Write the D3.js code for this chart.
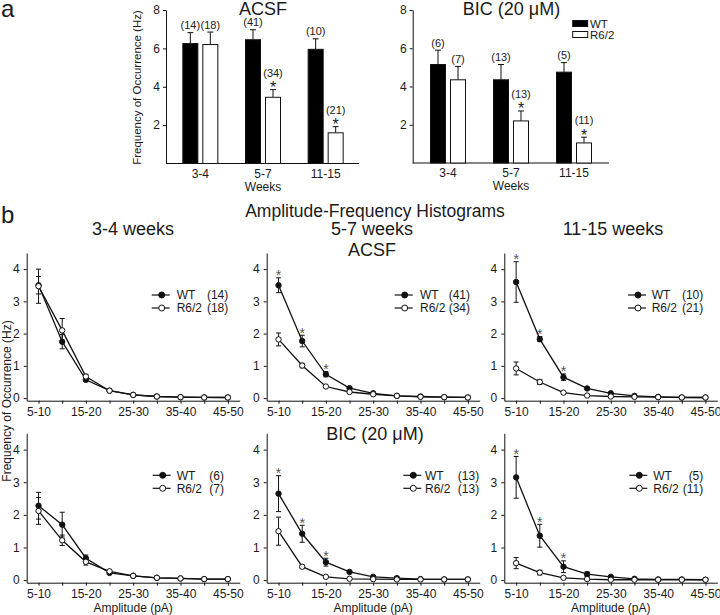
<!DOCTYPE html>
<html><head><meta charset="utf-8">
<script src="https://cdn.jsdelivr.net/npm/d3@7"></script>
<style>
body{margin:0;background:#fff;}
svg text{font-family:"Liberation Sans", Arial, sans-serif; fill:#1a1a1a;}
</style></head><body>
<svg id="chart" width="720" height="615"></svg>
<script>
// ---------- Data: panel a (bar charts) ----------
const weeks = ["3-4", "5-7", "11-15"];
const acsfWT = [6.25, 6.45, 5.95];
const acsfWTErr = [0.57, 0.52, 0.55];
const acsfR62 = [6.2, 3.45, 1.6];
const acsfR62Err = [0.65, 0.4, 0.32];
const acsfWTN = ["(14)", "(41)", "(10)"];
const acsfR62N = ["(18)", "(34)", "(21)"];
const acsfSig = [false, true, true];
const bicWT = [5.15, 4.35, 4.75];
const bicWTErr = [0.75, 0.8, 0.5];
const bicR62 = [4.35, 2.2, 1.05];
const bicR62Err = [0.7, 0.52, 0.3];
const bicWTN = ["(6)", "(13)", "(5)"];
const bicR62N = ["(7)", "(13)", "(11)"];
const bicSig = [false, true, true];
const barYTicks = [2, 4, 6, 8];

// ---------- Data: panel b (amplitude-frequency histograms) ----------
const amps = ["5-10","10-15","15-20","20-25","25-30","30-35","35-40","40-45","45-50"];
const ampTickLabels = ["5-10","15-20","25-30","35-40","45-50"];
const lineYTicks = [0, 1, 2, 3, 4];

const acsf34WT     = [3.5, 1.75, 0.57, 0.23, 0.1, 0.05, 0.03, 0.02, 0.02];
const acsf34WTErr  = [0.27, 0.22, 0.06, 0.02, 0.01, 0, 0, 0, 0];
const acsf34R62    = [3.47, 2.1, 0.67, 0.23, 0.1, 0.05, 0.03, 0.02, 0.02];
const acsf34R62Err = [0.53, 0.37, 0.07, 0.02, 0.01, 0, 0, 0, 0];

const acsf57WT     = [3.5, 1.77, 0.74, 0.31, 0.15, 0.07, 0.05, 0.03, 0.02];
const acsf57WTErr  = [0.23, 0.18, 0.08, 0.03, 0.02, 0.01, 0, 0, 0];
const acsf57R62    = [1.82, 1.01, 0.36, 0.19, 0.12, 0.07, 0.04, 0.03, 0.02];
const acsf57R62Err = [0.2, 0.07, 0.03, 0.02, 0.01, 0, 0, 0, 0];

const acsf1115WT     = [3.6, 1.83, 0.65, 0.3, 0.15, 0.07, 0.04, 0.02, 0.02];
const acsf1115WTErr  = [0.63, 0.08, 0.1, 0.03, 0.02, 0.01, 0, 0, 0];
const acsf1115R62    = [0.92, 0.5, 0.17, 0.08, 0.05, 0.04, 0.03, 0.02, 0.02];
const acsf1115R62Err = [0.2, 0.08, 0.02, 0.01, 0.01, 0, 0, 0, 0];

const bic34WT     = [2.28, 1.7, 0.67, 0.22, 0.13, 0.07, 0.05, 0.03, 0.03];
const bic34WTErr  = [0.41, 0.38, 0.1, 0.03, 0.01, 0, 0, 0, 0];
const bic34R62    = [2.12, 1.22, 0.56, 0.27, 0.13, 0.07, 0.05, 0.03, 0.03];
const bic34R62Err = [0.41, 0.16, 0.1, 0.03, 0.01, 0, 0, 0, 0];

const bic57WT     = [2.65, 1.42, 0.55, 0.25, 0.1, 0.06, 0.03, 0.02, 0.02];
const bic57WTErr  = [0.55, 0.26, 0.12, 0.03, 0.02, 0, 0, 0, 0];
const bic57R62    = [1.5, 0.41, 0.1, 0.04, 0.03, 0.02, 0.02, 0.02, 0.02];
const bic57R62Err = [0.43, 0.05, 0.02, 0.01, 0, 0, 0, 0, 0];

const bic1115WT     = [3.15, 1.36, 0.41, 0.18, 0.1, 0.04, 0.02, 0.02, 0.01];
const bic1115WTErr  = [0.64, 0.35, 0.18, 0.07, 0.03, 0.01, 0, 0, 0];
const bic1115R62    = [0.52, 0.23, 0.07, 0.03, 0.01, 0.01, 0.01, 0.01, 0.01];
const bic1115R62Err = [0.17, 0.07, 0.02, 0.01, 0, 0, 0, 0, 0];

const sigIdx = [0, 1, 2];

// ---------- Drawing ----------
const svg = d3.select("#chart");
const INK = "#111";
const FONT = "Liberation Sans, Arial, sans-serif";

function txt(x, y, s, size, anchor) {
  return svg.append("text").attr("x", x).attr("y", y).text(s)
    .attr("font-size", size).attr("text-anchor", anchor || "middle");
}

// panel letters
txt(1, 17, "a", 24, "start");
txt(1, 223, "b", 24, "start");

function barChart(cfg) {
  const g = svg.append("g");
  const y = d3.scaleLinear().domain([0, 8]).range([cfg.yBottom, cfg.yTop]);
  const x = d3.scaleBand().domain(weeks).range([cfg.bandStart, cfg.bandEnd]);
  const yAx = g.append("g").attr("transform", `translate(${cfg.x0},0)`)
    .call(d3.axisLeft(y).tickValues(barYTicks).tickFormat(d3.format("d"))
      .tickSize(3).tickPadding(3).tickSizeOuter(0));
  yAx.selectAll("text").attr("font-size", 12).style("font-family", FONT).attr("fill", "#1a1a1a");
  yAx.selectAll("path,line").attr("stroke", INK);
  g.append("line").attr("x1", cfg.x0).attr("x2", cfg.x1)
    .attr("y1", cfg.yBottom).attr("y2", cfg.yBottom).attr("stroke", INK);
  weeks.forEach(w => {
    g.append("text").attr("x", x(w) + x.bandwidth() / 2).attr("y", cfg.yBottom + 14)
      .attr("text-anchor", "middle").attr("font-size", 12).text(w);
  });
  g.append("text").attr("x", x(weeks[1]) + x.bandwidth() / 2).attr("y", cfg.yBottom + 27)
    .attr("text-anchor", "middle").attr("font-size", 12).text("Weeks");
  const bw = 15, gap = 2.5;
  const series = [
    {vals: cfg.wt, err: cfg.wtErr, n: cfg.wtN, fill: "#000", off: -gap - bw, sig: null},
    {vals: cfg.r62, err: cfg.r62Err, n: cfg.r62N, fill: "#fff", off: gap, sig: cfg.sig}
  ];
  series.forEach(s => {
    weeks.forEach((w, i) => {
      const cx = x(w) + x.bandwidth() / 2 + s.off;
      const topY = y(s.vals[i]);
      const et = y(s.vals[i] + s.err[i]);
      g.append("line").attr("x1", cx + bw / 2).attr("x2", cx + bw / 2)
        .attr("y1", topY).attr("y2", et).attr("stroke", INK);
      g.append("line").attr("x1", cx + bw / 2 - 3).attr("x2", cx + bw / 2 + 3)
        .attr("y1", et).attr("y2", et).attr("stroke", INK);
      g.append("rect").attr("x", cx).attr("y", topY).attr("width", bw)
        .attr("height", cfg.yBottom - topY).attr("fill", s.fill)
        .attr("stroke", INK).attr("stroke-width", 1);
      const starred = s.sig && s.sig[i];
      if (starred) {
        g.append("text").attr("x", cx + bw / 2).attr("y", et + 3.5)
          .attr("text-anchor", "middle").attr("font-size", 16).text("*");
        g.append("text").attr("x", cx + bw / 2).attr("y", et - 13)
          .attr("text-anchor", "middle").attr("font-size", 11).text(s.n[i]);
      } else {
        g.append("text").attr("x", cx + bw / 2).attr("y", et - 3.5)
          .attr("text-anchor", "middle").attr("font-size", 11).text(s.n[i]);
      }
    });
  });
  g.append("text").attr("x", cfg.titleX).attr("y", 14.5).attr("text-anchor", "middle")
    .attr("font-size", 18).text(cfg.title);
  if (cfg.yLabel) {
    g.append("text").attr("transform", `translate(141,87.5) rotate(-90)`)
      .attr("text-anchor", "middle").attr("font-size", 11.5).text(cfg.yLabel);
  }
}

barChart({x0: 166, x1: 359, bandStart: 169, bandEnd: 357, yTop: 10, yBottom: 163.5,
  wt: acsfWT, wtErr: acsfWTErr, r62: acsfR62, r62Err: acsfR62Err,
  wtN: acsfWTN, r62N: acsfR62N, sig: acsfSig, title: "ACSF", titleX: 263,
  yLabel: "Frequency of Occurrence (Hz)"});
barChart({x0: 412.7, x1: 609, bandStart: 416.5, bandEnd: 605.5, yTop: 10, yBottom: 163,
  wt: bicWT, wtErr: bicWTErr, r62: bicR62, r62Err: bicR62Err,
  wtN: bicWTN, r62N: bicR62N, sig: bicSig, title: "BIC (20 \u03bcM)", titleX: 511.5});

// bar legend
svg.append("rect").attr("x", 572.7).attr("y", 20.5).attr("width", 15).attr("height", 6).attr("fill", "#000").attr("stroke", INK);
svg.append("rect").attr("x", 572.7).attr("y", 31.5).attr("width", 15).attr("height", 6).attr("fill", "#fff").attr("stroke", INK);
txt(590, 27.5, "WT", 11.5, "start");
txt(590, 38.5, "R6/2", 11.5, "start");

// ---------- line panels ----------
function linePanel(cfg) {
  const g = svg.append("g");
  const x = d3.scalePoint().domain(amps).range([cfg.x0, cfg.x0 + 213]).padding(0.5);
  const y = d3.scaleLinear().domain([-0.08, 4.5]).range([cfg.yBottom, cfg.yTop]);
  const xAx = g.append("g").attr("transform", `translate(0,${cfg.yBottom})`)
    .call(d3.axisBottom(x).tickSize(3).tickPadding(3.5).tickSizeOuter(0)
      .tickFormat(d => ampTickLabels.includes(d) ? d : ""));
  const yAx = g.append("g").attr("transform", `translate(${cfg.x0},0)`)
    .call(d3.axisLeft(y).tickValues(lineYTicks).tickFormat(d3.format("d"))
      .tickSize(3).tickPadding(4).tickSizeOuter(0));
  [xAx, yAx].forEach(a => {
    a.selectAll("text").attr("font-size", 12).style("font-family", FONT).attr("fill", "#1a1a1a");
    a.selectAll("path,line").attr("stroke", INK);
  });
  const series = [
    {vals: cfg.wt, err: cfg.wtErr, fill: "#111"},
    {vals: cfg.r62, err: cfg.r62Err, fill: "#fff"}
  ];
  const line = d3.line().x((d, i) => x(amps[i])).y(d => y(d));
  series.forEach(s => {
    g.append("path").datum(s.vals).attr("d", line).attr("fill", "none")
      .attr("stroke", INK).attr("stroke-width", 1.3);
  });
  series.forEach(s => {
    s.vals.forEach((v, i) => {
      if (s.err[i] < 0.04) return;
      const cx = x(amps[i]);
      const a = y(v + s.err[i]), b = y(v - s.err[i]);
      g.append("line").attr("x1", cx).attr("x2", cx).attr("y1", a).attr("y2", b).attr("stroke", INK);
      [a, b].forEach(yy => g.append("line").attr("x1", cx - 2.5).attr("x2", cx + 2.5)
        .attr("y1", yy).attr("y2", yy).attr("stroke", INK));
    });
  });
  series.forEach(s => {
    g.selectAll(null).data(s.vals).enter().append("circle")
      .attr("cx", (d, i) => x(amps[i])).attr("cy", d => y(d)).attr("r", 2.7)
      .attr("fill", s.fill).attr("stroke", INK).attr("stroke-width", 1);
  });
  if (cfg.sig) {
    sigIdx.forEach(i => {
      const et = y(cfg.wt[i] + cfg.wtErr[i]);
      g.append("text").attr("x", x(amps[i])).attr("y", et + 2.5)
        .attr("text-anchor", "middle").attr("font-size", 14)
        .style("fill", "#555").text("*");
    });
  }
  const L = cfg.leg;
  const rows = [
    {label: "WT", n: cfg.wtN, fill: "#111", dy: 42},
    {label: "R6/2", n: cfg.r62N, fill: "#fff", dy: 55}
  ];
  rows.forEach(r => {
    const yy = cfg.yTop + r.dy;
    g.append("line").attr("x1", cfg.x0 + L[0]).attr("x2", cfg.x0 + L[0] + 18)
      .attr("y1", yy).attr("y2", yy).attr("stroke", INK).attr("stroke-width", 1.2);
    g.append("circle").attr("cx", cfg.x0 + L[0] + 10).attr("cy", yy).attr("r", 3)
      .attr("fill", r.fill).attr("stroke", INK);
    g.append("text").attr("x", cfg.x0 + L[1]).attr("y", yy + 4.2)
      .attr("font-size", 12).text(r.label);
    g.append("text").attr("x", cfg.x0 + L[2]).attr("y", yy + 4.2)
      .attr("text-anchor", "end").attr("font-size", 12).text(r.n);
  });
  if (cfg.xLabel) {
    g.append("text").attr("x", cfg.x0 + 106.5).attr("y", cfg.yBottom + 29.5)
      .attr("text-anchor", "middle").attr("font-size", 12).text(cfg.xLabel);
  }
}

const colX = [26.7, 266.7, 504.3];
const rowTop = {yTop: 253, yBottom: 400.7};
const rowBot = {yTop: 433.3, yBottom: 582.7};

linePanel({x0: colX[0], ...rowTop, wt: acsf34WT, wtErr: acsf34WTErr, r62: acsf34R62, r62Err: acsf34R62Err,
  wtN: "(14)", r62N: "(18)", sig: false, leg: [125, 150, 201.6]});
linePanel({x0: colX[1], ...rowTop, wt: acsf57WT, wtErr: acsf57WTErr, r62: acsf57R62, r62Err: acsf57R62Err,
  wtN: "(41)", r62N: "(34)", sig: true, leg: [128, 153.3, 203.3]});
linePanel({x0: colX[2], ...rowTop, wt: acsf1115WT, wtErr: acsf1115WTErr, r62: acsf1115R62, r62Err: acsf1115R62Err,
  wtN: "(10)", r62N: "(21)", sig: true, leg: [123.7, 147.4, 199]});
linePanel({x0: colX[0], ...rowBot, wt: bic34WT, wtErr: bic34WTErr, r62: bic34R62, r62Err: bic34R62Err,
  wtN: "(6)", r62N: "(7)", sig: false, leg: [126, 150, 197.3], xLabel: "Amplitude (pA)"});
linePanel({x0: colX[1], ...rowBot, wt: bic57WT, wtErr: bic57WTErr, r62: bic57R62, r62Err: bic57R62Err,
  wtN: "(13)", r62N: "(13)", sig: true, leg: [136.6, 158.3, 212.5], xLabel: "Amplitude (pA)"});
linePanel({x0: colX[2], ...rowBot, wt: bic1115WT, wtErr: bic1115WTErr, r62: bic1115R62, r62Err: bic1115R62Err,
  wtN: "(5)", r62N: "(11)", sig: true, leg: [125, 149, 199], xLabel: "Amplitude (pA)"});

// titles
txt(375, 216.5, "Amplitude-Frequency Histograms", 17.5);
txt(133, 235, "3-4 weeks", 18);
txt(372, 235, "5-7 weeks", 18);
txt(613, 235, "11-15 weeks", 18);
txt(372, 255.5, "ACSF", 18);
txt(375, 440, "BIC (20 \u03bcM)", 18);
svg.append("text").attr("transform", "translate(11,401) rotate(-90)")
  .attr("text-anchor", "middle").attr("font-size", 12).text("Frequency of Occurrence (Hz)");
</script>
</body></html>
